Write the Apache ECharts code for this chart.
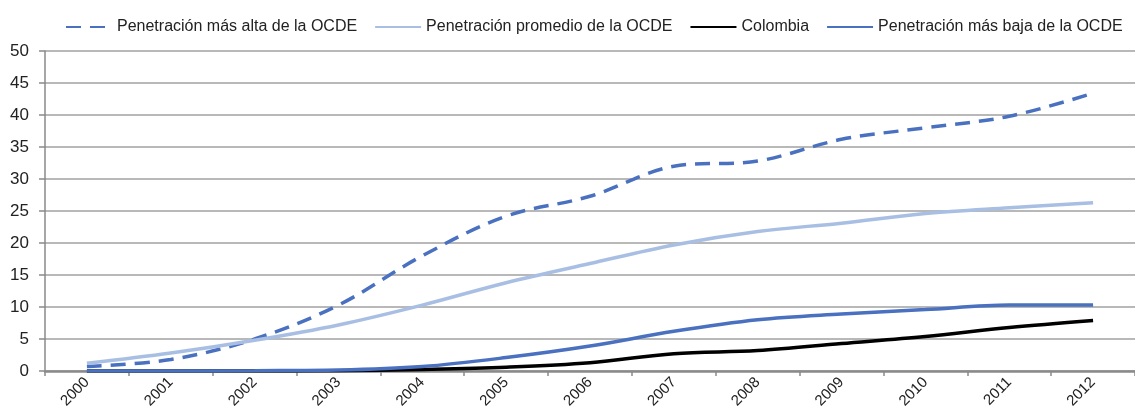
<!DOCTYPE html>
<html><head><meta charset="utf-8">
<script src="https://cdn.jsdelivr.net/npm/echarts@6/dist/echarts.min.js"></script>
<style>html,body{margin:0;padding:0;background:#fff}#c{width:1135px;height:420px}</style>
</head><body><div id="c"></div>
<script>
const years = ['2000','2001','2002','2003','2004','2005','2006','2007','2008','2009','2010','2011','2012'];
const alta = [0.7, 1.8, 5.0, 10.3, 18.0, 24.2, 27.3, 32.0, 32.8, 36.2, 38.0, 39.8, 43.4];
const promedio = [1.2, 2.8, 4.8, 7.2, 10.3, 13.8, 16.8, 19.7, 21.8, 23.1, 24.6, 25.5, 26.3];
const colombia = [0.0, 0.0, 0.0, 0.05, 0.25, 0.6, 1.3, 2.7, 3.2, 4.3, 5.4, 6.8, 7.9];
const baja = [0.0, 0.0, 0.05, 0.15, 0.7, 2.1, 3.9, 6.2, 8.0, 8.9, 9.6, 10.3, 10.3];
const names = ['Penetración más alta de la OCDE','Penetración promedio de la OCDE','Colombia','Penetración más baja de la OCDE'];
const yTicks = [0,5,10,15,20,25,30,35,40,45,50];

const FONT = "'Liberation Sans', Arial, sans-serif";
const chart = echarts.init(document.getElementById('c'), null, {renderer:'canvas'});
function ser(name, data, color, type){
  return {name, type:'line', data, smooth:0.35, symbol:'none',
    lineStyle:{color, width:3.5, type}, itemStyle:{color, opacity:0}};
}
chart.setOption({
  animation:false,
  textStyle:{fontFamily:FONT},
  legend:{top:14, left:60, itemWidth:46, itemHeight:12, itemGap:17,
    itemStyle:{opacity:0},
    textStyle:{fontFamily:FONT, fontSize:16, color:'#222'},
    data:names},
  grid:{left:45, width:1100, top:51, bottom:49, containLabel:false},
  xAxis:{type:'category', data:years, boundaryGap:true,
    axisLine:{lineStyle:{color:'#8a8a8a', width:2.5}},
    axisTick:{show:true, alignWithLabel:false, length:5, lineStyle:{color:'#8a8a8a', width:1.5}},
    axisLabel:{rotate:45, fontFamily:FONT, fontSize:15, color:'#222', margin:9}},
  yAxis:{type:'value', min:0, max:50, interval:5,
    axisLine:{show:true, lineStyle:{color:'#8a8a8a', width:1.5}},
    axisTick:{show:true, length:6, lineStyle:{color:'#8a8a8a', width:1.5}},
    splitLine:{lineStyle:{color:'#b8b8b8', width:2}},
    axisLabel:{fontFamily:FONT, fontSize:17, color:'#222', margin:16,
      formatter:v=>yTicks.includes(v)?String(v):''}},
  series:[
    ser(names[0], alta, '#4a70c0', [15,9]),
    ser(names[1], promedio, '#a8bfe3', 'solid'),
    ser(names[2], colombia, '#000000', 'solid'),
    ser(names[3], baja, '#4a70c0', 'solid')
  ]
});
</script></body></html>
